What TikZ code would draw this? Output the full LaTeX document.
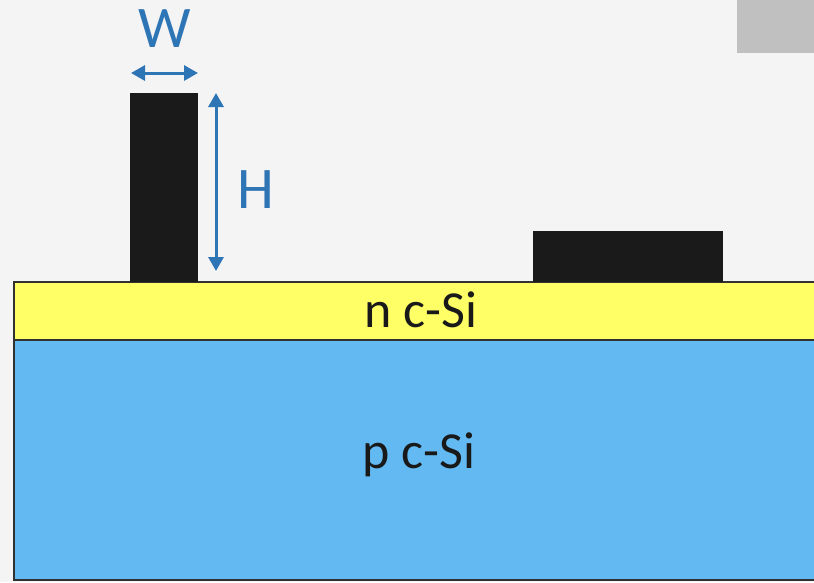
\documentclass[tikz,border=0pt]{standalone}
\usepackage{fontspec}
\setmainfont{Carlito}
\usetikzlibrary{arrows.meta}
\definecolor{bg}{HTML}{F4F4F4}
\definecolor{boxgray}{HTML}{C0C0C0}
\definecolor{ntype}{HTML}{FFFF66}
\definecolor{ptype}{HTML}{63B9F2}
\definecolor{metal}{HTML}{1A1A1A}
\definecolor{dim}{HTML}{2E75B6}
\tikzset{
  layer/.style={draw=metal!90, line width=1.5pt},
  contact/.style={fill=metal, draw=none},
  dimarrow/.style={draw=dim, line width=3pt, {Triangle[width=15pt,length=14pt]}-{Triangle[width=15pt,length=14pt]}},
  dimlabel/.style={text=dim, font=\fontsize{59}{60}\selectfont},
  layerlabel/.style={text=black!90, font=\fontsize{52}{56}\selectfont}
}
\begin{document}
\begin{tikzpicture}[x=1pt,y=-1pt]
  % canvas
  \fill[bg] (0,0) rectangle (814,582);
  \useasboundingbox (0,0) rectangle (814,582);
  \fill[boxgray] (737,0) rectangle (814,53);
  % substrate layers
  \draw[layer, fill=ptype] (14,340) rectangle (820,580);
  \draw[layer, fill=ntype] (14,282) rectangle (820,340);
  % metal contacts
  \fill[contact] (130,93) rectangle (198,282);
  \fill[contact] (533,231) rectangle (723,282);
  % dimension markers
  \coordinate (wl) at (131,73);
  \coordinate (wr) at (198,73);
  \coordinate (ht) at (216,93);
  \coordinate (hb) at (216,271);
  \draw[dimarrow] (wl) -- (wr);
  \draw[dimarrow] (ht) -- (hb);
  \node[dimlabel] (wlab) at (165,29) {W};
  \node[dimlabel] (hlab) at (256,190) {H};
  % layer labels
  \node[layerlabel] (nlab) at (421,310) {n c-Si};
  \node[layerlabel] (plab) at (419,455) {p c-Si};
\end{tikzpicture}
\end{document}
